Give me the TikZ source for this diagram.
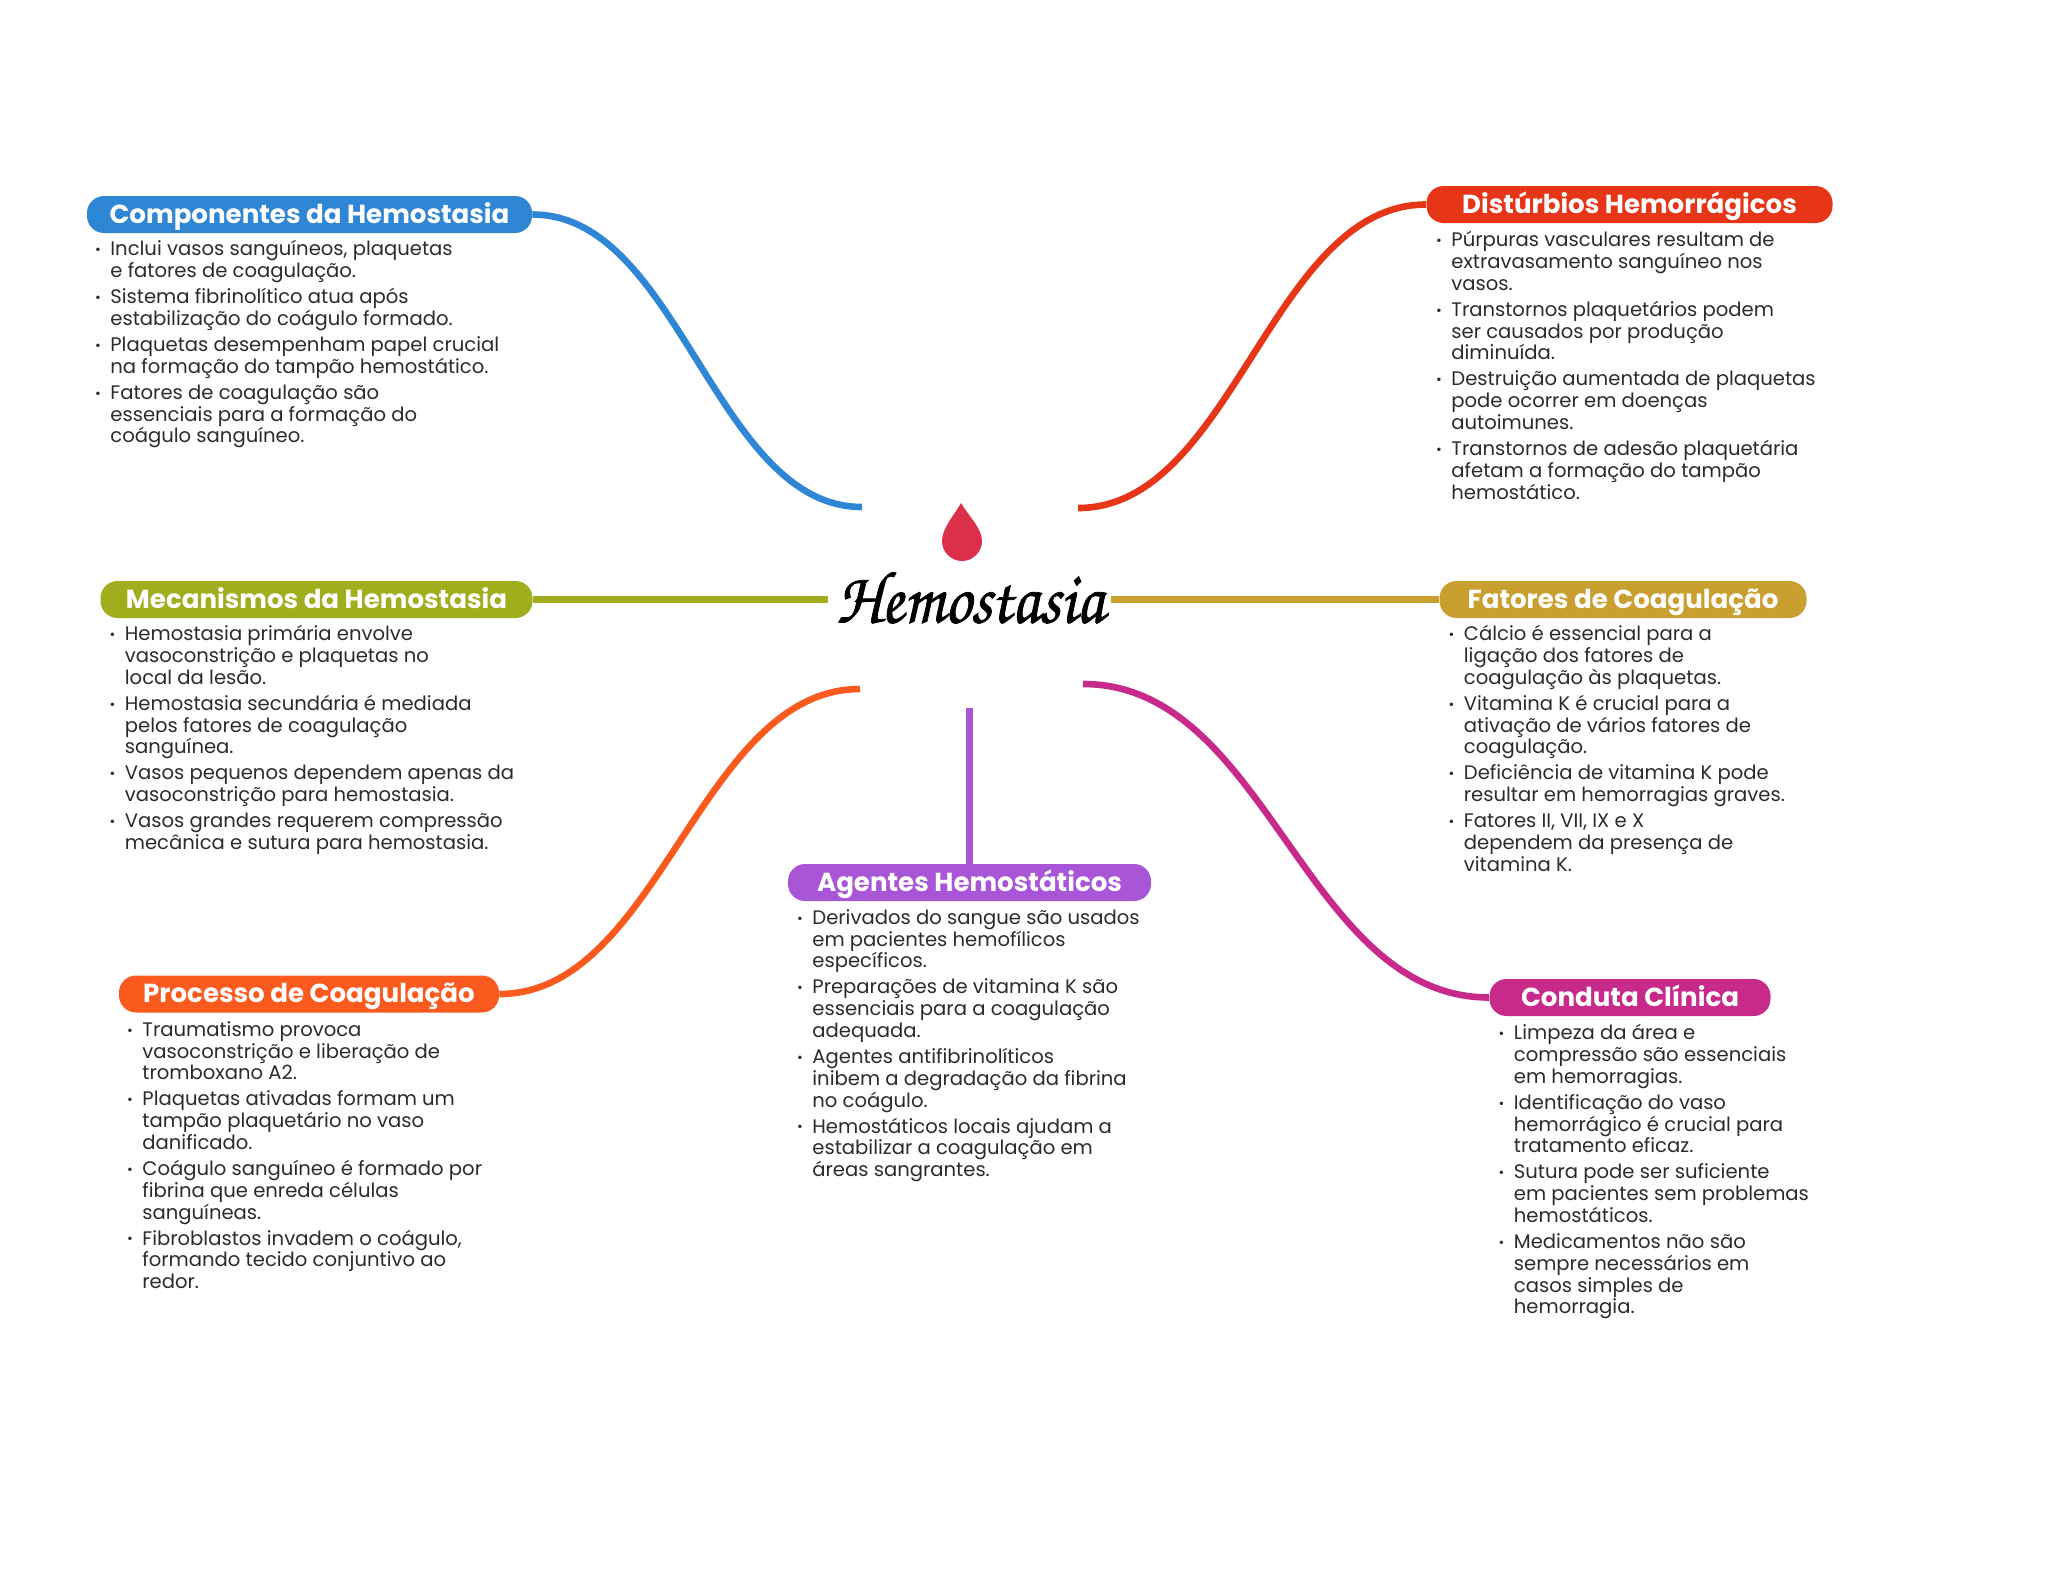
\documentclass[tikz,border=0pt]{standalone}
\usepackage{fontspec}
\setmainfont{Poppins}
\newfontfamily\titlefont[FakeStretch=0.89,AutoFakeBold=1]{TeX Gyre Chorus}
\usepackage{xcolor}
\usepackage{tikz}
\usetikzlibrary{positioning}
\definecolor{compcol}{HTML}{2F86D5}
\definecolor{distcol}{HTML}{E63517}
\definecolor{meancol}{HTML}{A0AE1E}
\definecolor{fatcol}{HTML}{C9A030}
\definecolor{proccol}{HTML}{FB5A1E}
\definecolor{agentcol}{HTML}{A855D8}
\definecolor{condcol}{HTML}{C72A8A}
\definecolor{dropcol}{HTML}{DC2F4A}
\definecolor{bodycol}{HTML}{2B2B2B}
\newcommand{\bul}{\llap{\raisebox{0.6pt}{\scriptsize\textbullet}\hspace{4.8pt}}}

\begin{document}
\begin{tikzpicture}[x=0.5pt,y=-0.5pt,
 pill/.style={rectangle,rounded corners=8.5pt,minimum height=18.5pt,inner sep=0pt,text=white,
  text height=10.5pt,text depth=2pt,font=\fontsize{13.05}{15}\selectfont\bfseries},
 body/.style={anchor=north west,inner sep=0pt,align=left,text=bodycol,
  font=\fontsize{9.8}{10.87}\selectfont},
 link/.style={line width=3.3pt}]
\useasboundingbox (0,0) rectangle (2048,1569);
% centre
\fill[dropcol] (961,503) .. controls (955,514) and (942,528) .. (942,541)
 .. controls (942,552) and (951,561) .. (962,561)
 .. controls (973,561) and (982,552) .. (982,541)
 .. controls (982,528) and (967,514) .. (961,503) -- cycle;
\node[inner sep=0pt] (title) at (970,598) {\fontsize{37}{42}\selectfont\titlefont\bfseries Hemostasia};
% branch heads
\node[pill,fill=compcol,minimum width=222.5pt] (comp) at (309.5,214.5) {Componentes da Hemostasia};
\node[pill,fill=distcol,minimum width=203pt] (dist) at (1629.5,204.5) {Distúrbios Hemorrágicos};
\node[pill,fill=meancol,minimum width=216pt] (mean) at (316.5,599.5) {Mecanismos da Hemostasia};
\node[pill,fill=fatcol,minimum width=183.5pt] (fat) at (1623,599.5) {Fatores de Coagulação};
\node[pill,fill=proccol,minimum width=190pt] (proc) at (309,994) {Processo de Coagulação};
\node[pill,fill=agentcol,minimum width=181.5pt] (agent) at (969.5,882.5) {Agentes Hemostáticos};
\node[pill,fill=condcol,minimum width=140.5pt] (cond) at (1630,997.5) {Conduta Clínica};
% free ends
\coordinate (compend) at (862,507);
\coordinate (distend) at (1078,508);
\coordinate (meanend) at (828,599.5);
\coordinate (fatend) at (1111,599.5);
\coordinate (procend) at (860,689);
\coordinate (agentend) at (969.5,708);
\coordinate (condend) at (1083,684);
\foreach \a/\b/\s/\col in {comp.east/compend/147/compcol,dist.west/distend/-155/distcol,
 proc.east/procend/160/proccol,cond.west/condend/-185/condcol}
 \draw[link,\col] (\a) .. controls +(\s,0) and +(-\s,0) .. (\b);
\foreach \a/\b/\col in {mean.east/meanend/meancol,fat.west/fatend/fatcol,agent.north/agentend/agentcol}
 \draw[link,\col] (\a) -- (\b);
% texts
\node[body] (comptxt) at (110,240) {\bul Inclui vasos sanguíneos, plaquetas\\e fatores de coagulação.\\[2.2pt]
\bul Sistema fibrinolítico atua após\\estabilização do coágulo formado.\\[2.2pt]
\bul Plaquetas desempenham papel crucial\\na formação do tampão hemostático.\\[2.2pt]
\bul Fatores de coagulação são\\essenciais para a formação do\\coágulo sanguíneo.};
\node[body] (disttxt) at (1451,231) {\bul Púrpuras vasculares resultam de\\extravasamento sanguíneo nos\\vasos.\\[2.2pt]
\bul Transtornos plaquetários podem\\ser causados por produção\\diminuída.\\[2.2pt]
\bul Destruição aumentada de plaquetas\\pode ocorrer em doenças\\autoimunes.\\[2.2pt]
\bul Transtornos de adesão plaquetária\\afetam a formação do tampão\\hemostático.};
\node[body] (meantxt) at (124.5,625) {\bul Hemostasia primária envolve\\vasoconstrição e plaquetas no\\local da lesão.\\[2.2pt]
\bul Hemostasia secundária é mediada\\pelos fatores de coagulação\\sanguínea.\\[2.2pt]
\bul Vasos pequenos dependem apenas da\\vasoconstrição para hemostasia.\\[2.2pt]
\bul Vasos grandes requerem compressão\\mecânica e sutura para hemostasia.};
\node[body] (fattxt) at (1463.5,625) {\bul Cálcio é essencial para a\\ligação dos fatores de\\coagulação às plaquetas.\\[2.2pt]
\bul Vitamina K é crucial para a\\ativação de vários fatores de\\coagulação.\\[2.2pt]
\bul Deficiência de vitamina K pode\\resultar em hemorragias graves.\\[2.2pt]
\bul Fatores II, VII, IX e X\\dependem da presença de\\vitamina K.};
\node[body] (proctxt) at (142,1021) {\bul Traumatismo provoca\\vasoconstrição e liberação de\\tromboxano A2.\\[2.2pt]
\bul Plaquetas ativadas formam um\\tampão plaquetário no vaso\\danificado.\\[2.2pt]
\bul Coágulo sanguíneo é formado por\\fibrina que enreda células\\sanguíneas.\\[2.2pt]
\bul Fibroblastos invadem o coágulo,\\formando tecido conjuntivo ao\\redor.};
\node[body] (agenttxt) at (812,909) {\bul Derivados do sangue são usados\\em pacientes hemofílicos\\específicos.\\[2.2pt]
\bul Preparações de vitamina K são\\essenciais para a coagulação\\adequada.\\[2.2pt]
\bul Agentes antifibrinolíticos\\inibem a degradação da fibrina\\no coágulo.\\[2.2pt]
\bul Hemostáticos locais ajudam a\\estabilizar a coagulação em\\áreas sangrantes.};
\node[body] (condtxt) at (1513.5,1024) {\bul Limpeza da área e\\compressão são essenciais\\em hemorragias.\\[2.2pt]
\bul Identificação do vaso\\hemorrágico é crucial para\\tratamento eficaz.\\[2.2pt]
\bul Sutura pode ser suficiente\\em pacientes sem problemas\\hemostáticos.\\[2.2pt]
\bul Medicamentos não são\\sempre necessários em\\casos simples de\\hemorragia.};
\end{tikzpicture}
\end{document}
